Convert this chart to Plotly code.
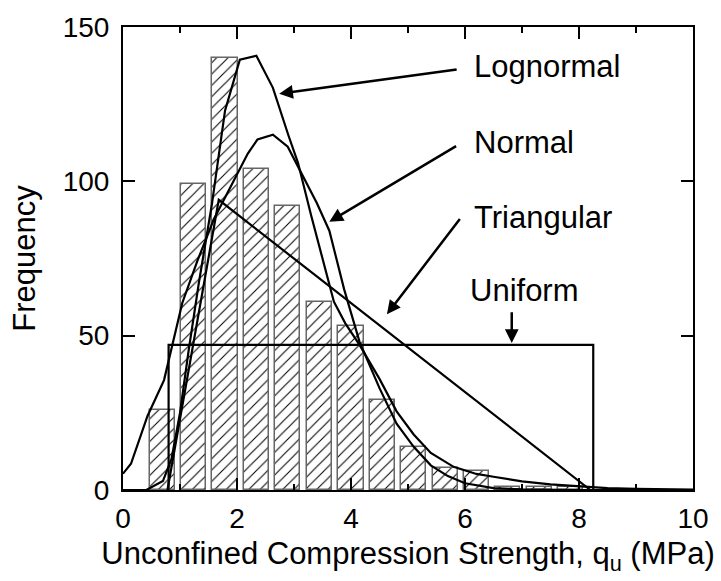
import plotly.graph_objects as go

# Histogram (bin centres, frequency)
bin_centers = [0.70, 1.24, 1.79, 2.34, 2.89, 3.45, 4.00, 4.55, 5.10, 5.65, 6.20, 6.75, 7.30, 7.85]
frequency = [26, 99, 140, 104, 92, 61, 53, 29, 14, 7, 6, 1, 1, 1]

# Fitted distributions
lognormal_x = [0.0, 0.41, 0.70, 0.85, 1.0, 1.15, 1.33, 1.56, 1.79, 2.05, 2.34, 2.63, 2.9, 3.07, 3.3, 3.5, 3.7, 3.9, 4.15, 4.5, 4.8, 5.1, 5.4, 5.8, 6.2, 6.5, 7.0, 7.5, 8.0, 8.5, 9.0, 10.0]
lognormal_y = [0.0, 0.0, 2.9, 10, 25, 45, 67, 92.6, 122.9, 139.4, 140.7, 130.3, 115, 106, 89, 75, 61, 54, 47, 36, 25.5, 18, 12, 7.5, 5.2, 4.3, 2.8, 1.8, 1.1, 0.6, 0.35, 0.1]

normal_x = [0.0, 0.14, 0.43, 0.72, 1.04, 1.3, 1.6, 1.91, 2.19, 2.36, 2.63, 2.89, 3.15, 3.4, 3.62, 3.88, 4.15, 4.5, 4.8, 5.1, 5.4, 5.7, 6.0, 6.5, 7.0, 8.0, 10.0]
normal_y = [5.3, 8.5, 24, 35.6, 60.6, 74, 88, 99, 109, 113.6, 115.1, 111.2, 102, 93, 84, 65, 48, 33, 21.5, 14, 8, 4.5, 2.2, 0.6, 0.2, 0.0, 0.0]

triangular_x = [0.78, 1.68, 8.2]
triangular_y = [0, 94, 0]

uniform_x = [0.8, 0.8, 8.25, 8.25]
uniform_y = [0, 47, 47, 0]

font_family = "Liberation Sans, Arial, sans-serif"

fig = go.Figure()

fig.add_trace(go.Bar(
    x=bin_centers, y=frequency, width=0.44,
    marker=dict(color="white",
                line=dict(color="#666666", width=1.5),
                pattern=dict(shape="/", fgcolor="black", bgcolor="white", fgopacity=1,
                             size=8, solidity=0.13)),
    showlegend=False,
))

line_style = dict(color="black", width=2.2)
for xs, ys in [(uniform_x, uniform_y), (triangular_x, triangular_y), (normal_x, normal_y), (lognormal_x, lognormal_y)]:
    fig.add_trace(go.Scatter(x=xs, y=ys, mode="lines", line=line_style, showlegend=False))

labels = [
    ("Lognormal", 6.12, 137.2),
    ("Normal", 6.12, 112.7),
    ("Triangular", 6.12, 88.4),
]
for t, x, y in labels:
    fig.add_annotation(x=x, y=y, text=t, showarrow=False, xanchor="left", yanchor="middle",
                       font=dict(family=font_family, size=31, color="black"))
fig.add_annotation(x=7.05, y=64.5, text="Uniform", showarrow=False, xanchor="center", yanchor="middle",
                   font=dict(family=font_family, size=31, color="black"))

arrows = [
    (5.88, 136.3, 2.74, 128.4),
    (5.87, 111.7, 3.62, 86.9),
    (5.93, 88.3, 4.63, 56.9),
    (6.82, 58.1, 6.82, 47.6),
]
for ax, ay, x, y in arrows:
    fig.add_annotation(x=x, y=y, ax=ax, ay=ay, xref="x", yref="y", axref="x", ayref="y",
                       text="", showarrow=True, arrowhead=2, arrowsize=1.1, arrowwidth=2.5,
                       arrowcolor="black")

axis_common = dict(showline=True, linecolor="black", linewidth=2, mirror="allticks",
                   ticks="inside", tickcolor="black", tickwidth=1.5, showgrid=False,
                   zeroline=False, tickfont=dict(family=font_family, size=28, color="black"))

fig.update_xaxes(range=[0, 10], tickmode="linear", tick0=0, dtick=2, ticklen=12,
                 minor=dict(ticks="inside", dtick=1, tick0=0, ticklen=6, tickcolor="black", tickwidth=1.5, showgrid=False),
                 title=dict(text="Unconfined Compression Strength, q<sub>u</sub> (MPa)",
                            font=dict(family=font_family, size=31, color="black"), standoff=10),
                 ticklabelstandoff=2,
                 **axis_common)
fig.update_yaxes(range=[0, 150], tickmode="linear", tick0=0, dtick=50, ticklen=12,
                 title=dict(text="Frequency", font=dict(family=font_family, size=31, color="black"), standoff=18),
                 ticklabelstandoff=6,
                 **axis_common)

fig.update_layout(width=721, height=581, margin=dict(l=123, r=21, t=20, b=91),
                  plot_bgcolor="white", paper_bgcolor="white", bargap=0)

fig.write_html("out.html")
